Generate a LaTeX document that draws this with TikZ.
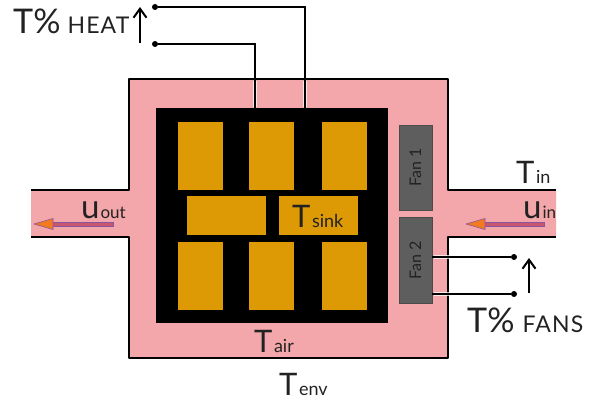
\documentclass[tikz,border=0pt]{standalone}
\usepackage{fontspec}
\setmainfont{Lato}
\definecolor{pinkb}{HTML}{F3A7AA}
\definecolor{goldb}{HTML}{DE9A05}
\definecolor{fang}{HTML}{5E5E5E}
\definecolor{shaft}{HTML}{C9566F}
\definecolor{edgep}{HTML}{8A55A0}
\definecolor{headc}{HTML}{F47A1F}
\definecolor{ink}{HTML}{222222}
\newcommand{\bigT}[1]{{\fontsize{31}{31}\selectfont T}\hspace{1.5pt}{\fontsize{18}{18}\selectfont #1}}
\newcommand{\bigU}[1]{{\fontsize{33}{33}\selectfont u}\hspace{1pt}{\fontsize{17}{17}\selectfont #1}}
\newcommand{\capsword}[1]{{\fontsize{23}{23}\selectfont\addfontfeature{LetterSpace=5}#1}}
\usetikzlibrary{arrows.meta}
\tikzset{
  gold/.style={fill=goldb,draw=none,inner sep=0pt,minimum width=#1},
  gold/.default=45pt,
  fan/.style={fill=fang,draw=fang!80!black,line width=.5pt,inner sep=0pt,minimum width=33pt,text=ink},
  wire/.style={draw=black,line width=1.3pt},
  wall/.style={draw=black,line width=1.4pt,line join=round},
  dot/.style={circle,fill=black,inner sep=0pt,minimum size=6pt},
  lab/.style={anchor=base west,inner sep=0pt,text=ink},
  halo/.style={draw=white,opacity=.75,line width=4pt},
  flow/.style={draw=edgep,line width=.6pt,fill=shaft},
  flowhead/.style={draw=edgep,line width=.6pt,fill=headc,line join=round},
  updir/.style={draw=black,line width=1.8pt,-{Straight Barb[length=9pt,width=13pt,line width=2pt]}},
}
\begin{document}
\begin{tikzpicture}[x=1pt,y=-1pt]
\useasboundingbox (0,0) rectangle (594,401);
\fill[white] (0,0) rectangle (594,401);
% housing
\fill[pinkb] (129,79) -- (448,79) -- (448,190) -- (556,190) -- (556,237) -- (448,237) -- (448,358) -- (129,358) -- (129,237) -- (31,237) -- (31,190) -- (129,190) -- cycle;
\draw[wall] (31,190) -- (129,190) -- (129,79) -- (448,79) -- (448,190) -- (556,190);
\draw[wall] (31,237) -- (129,237) -- (129,358) -- (448,358) -- (448,237) -- (556,237);
% heat sink
\node[fill=black,inner sep=0pt,minimum width=232pt,minimum height=215pt] (sink) at (272,215.5) {};
\node[gold,minimum height=68pt] (g1) at (200.5,156) {};
\node[gold,minimum height=68pt] (g2) at (271,156) {};
\node[gold,minimum height=68pt] (g3) at (344,156) {};
\node[gold=79pt,minimum height=39pt] (g4) at (226.5,215.5) {};
\node[gold=79pt,minimum height=39pt] (g5) at (318.5,215.5) {};
\node[gold,minimum height=68pt] (g6) at (200.5,276) {};
\node[gold,minimum height=68pt] (g7) at (271,276) {};
\node[gold,minimum height=68pt] (g8) at (344,276) {};
% fans
\node[fan,minimum height=85pt] (fan1) at (415.5,167.5) {\rotatebox{90}{\fontsize{16}{16}\selectfont Fan 1}};
\node[fan,minimum height=86pt] (fan2) at (415.5,260) {\rotatebox{90}{\fontsize{16}{16}\selectfont Fan 2}};
% heater wires
\node[dot] (h1) at (155,7) {};
\node[dot] (h2) at (155,44) {};
\coordinate (s1) at (305,108);
\coordinate (s2) at (255,108);
\draw[halo] (305,81) -- (305,107);
\draw[halo] (255,81) -- (255,107);
\draw[wire] (h1) -| (s1);
\draw[wire] (h2) -| (s2);
% fan wires
\node[dot] (f1) at (514,257) {};
\node[dot] (f2) at (514,294) {};
\coordinate (w1) at (432,257);
\coordinate (w2) at (432,294);
\draw[halo] (434,257) -- (452,257);
\draw[halo] (434,294) -- (452,294);
\draw[wire] (w1) -- (f1);
\draw[wire] (w2) -- (f2);
% direction arrows
\coordinate (a1) at (140,43);
\coordinate (a2) at (140,7);
\coordinate (a3) at (529,293);
\coordinate (a4) at (529,258);
\draw[updir] (a1) -- (a2);
\draw[updir] (a3) -- (a4);
% flow arrows
\filldraw[flow] (544,222) -- (484,222) -- (484,226) -- (544,226) -- cycle;
\filldraw[flowhead] (466,224) -- (485,218.5) -- (485,229.5) -- cycle;
\filldraw[flow] (113,222) -- (52,222) -- (52,226) -- (113,226) -- cycle;
\filldraw[flowhead] (34,224) -- (53,218.5) -- (53,229.5) -- cycle;
% labels
\node[lab] (lheat) at (13,34) {{\fontsize{34}{34}\selectfont T\%}\hspace{7pt}\capsword{HEAT}};
\node[lab] (lfans) at (467,332) {{\fontsize{34}{34}\selectfont T\%}\hspace{8pt}\capsword{FANS}};
\node[lab] (ltin) at (516,183) {\bigT{in}};
\node[lab] (luin) at (523,218) {\bigU{in}};
\node[lab] (luout) at (81,218) {\bigU{out}};
\node[lab] (ltair) at (254,352) {\bigT{air}};
\node[lab] (ltenv) at (279,395) {\bigT{env}};
\node[lab] (ltsink) at (292,227) {\bigT{sink}};
\end{tikzpicture}
\end{document}
